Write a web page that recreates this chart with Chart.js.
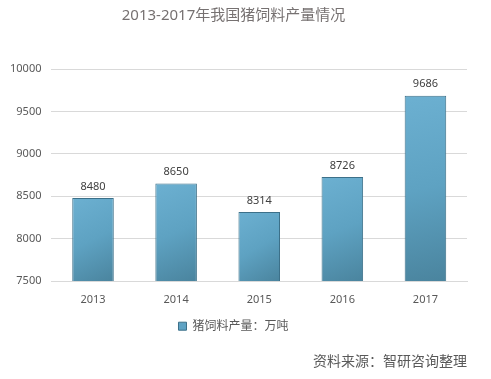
<!DOCTYPE html>
<html><head><meta charset="utf-8">
<script src="https://cdn.jsdelivr.net/npm/chart.js@4"></script>
<style>html,body{margin:0;padding:0;background:#fff;}#wrap{width:491px;height:379px;}</style>
</head><body><div id="wrap"><canvas id="c" width="491" height="379"></canvas></div>
<script>
const categories = ['2013','2014','2015','2016','2017'];
const values = [8480, 8650, 8314, 8726, 9686];
const yTicks = [7500, 8000, 8500, 9000, 9500, 10000];
const seriesName = '猪饲料产量：万吨';
const titleText = '2013-2017年我国猪饲料产量情况';
const sourceText = '资料来源：智研咨询整理';
const FONT = '"Noto Sans", "Noto Sans CJK SC", sans-serif';

function barFill(ctx){
  const chart = ctx.chart;
  const xs = chart.scales.x, ys = chart.scales.y;
  if(!xs || !ys || ctx.dataIndex === undefined) return '#5fa3c4';
  const cx = xs.getPixelForValue(ctx.dataIndex);
  const w = (chart.chartArea.right - chart.chartArea.left) / categories.length * 0.5;
  const top = ys.getPixelForValue(values[ctx.dataIndex]);
  const base = ys.getPixelForValue(ys.min);
  if(![cx,w,top,base].every(Number.isFinite)) return '#5fa3c4';
  const g = chart.ctx.createLinearGradient(cx - w/2, top, cx + w/2, base);
  g.addColorStop(0, '#6cb0d1');
  g.addColorStop(0.5, '#5ea2c2');
  g.addColorStop(1, '#4a849e');
  return g;
}

const labelPlugin = {
  id:'vals',
  afterDatasetsDraw(chart){
    const c = chart.ctx;
    const meta = chart.getDatasetMeta(0);
    c.save();
    c.font = '11px ' + FONT;
    c.fillStyle = '#404040';
    c.textAlign = 'center';
    c.textBaseline = 'bottom';
    meta.data.forEach((bar,i)=>{
      c.fillText(String(values[i]), bar.x, bar.y - 6);
    });
    c.restore();
  }
};

new Chart(document.getElementById('c'), {
  type:'bar',
  data:{labels:categories, datasets:[{label:seriesName, data:values,
    backgroundColor: barFill, borderColor:'#3c7089', borderWidth:1,
    categoryPercentage:1, barPercentage:0.5}]},
  options:{
    responsive:false, animation:false,
    layout:{padding:{left:0, right:24, top:0, bottom:7}},
    plugins:{
      title:{display:true, text:titleText, color:'#767171', font:{family:FONT, size:15, weight:'normal'}, padding:{top:7, bottom:44}},
      subtitle:{display:true, text:sourceText, position:'bottom', align:'end', color:'#595959', font:{family:FONT, size:14}, padding:{top:11, bottom:2}},
      legend:{position:'bottom', labels:{boxWidth:8, boxHeight:8, color:'#595959', font:{family:FONT, size:12}, padding:10,
        generateLabels(chart){return [{text:seriesName, fillStyle:'#5fa3c4', strokeStyle:'#3c7089', lineWidth:1, fontColor:'#595959'}];}}},
      tooltip:{enabled:false}
    },
    scales:{
      y:{min:7500, max:10000, afterBuildTicks(s){s.ticks = yTicks.map(v=>({value:v}));},
        grid:{color:'#d9d9d9', drawTicks:false}, border:{display:false},
        ticks:{color:'#595959', font:{family:FONT, size:11}, padding:10, callback:(v)=>String(v)}},
      x:{grid:{display:false}, border:{display:true, color:'#d9d9d9'},
        ticks:{color:'#595959', font:{family:FONT, size:11}, padding:4}}
    }
  },
  plugins:[labelPlugin]
});
</script></body></html>
